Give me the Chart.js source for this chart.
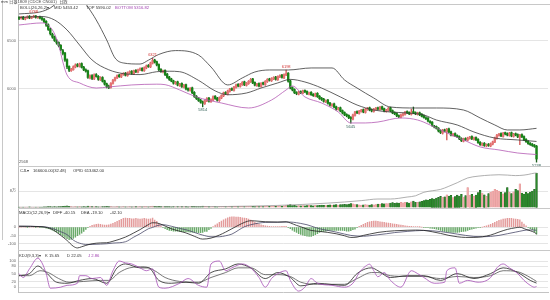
<!DOCTYPE html>
<html><head><meta charset="utf-8">
<script src="https://cdn.jsdelivr.net/npm/chart.js@4.4.1/dist/chart.umd.min.js"></script>
<style>
html,body{margin:0;padding:0;background:#fff;}
body{width:550px;height:300px;position:relative;overflow:hidden;}
canvas{position:absolute;left:0;}
#edge{position:absolute;left:2px;top:0;width:0;height:240px;border-left:1px solid #c8c8c8;}
</style></head><body>
<div id="edge"></div>
<canvas id="cPrice" width="550" height="170" style="top:0px"></canvas>
<canvas id="cVol" width="550" height="49" style="top:163px"></canvas>
<canvas id="cMacd" width="550" height="49" style="top:205px"></canvas>
<canvas id="cKdj" width="550" height="53" style="top:247px"></canvas>
<script>
// ---------- data (one entry per trading day) ----------
const opens = [
6745,6735,6750,6728,6740,6758,6738,6750,6762,6742,6752,6740,
6728,6705,6670,6625,6570,6545,6500,6485,6455,6400,6375,6305,
6235,6190,6200,6228,6255,6235,6265,6228,6200,6190,6115,6140,
6105,6150,6132,6095,6120,6085,6055,6030,6015,6058,6090,6115,
6145,6125,6150,6165,6140,6168,6185,6158,6195,6175,6198,6215,
6190,6218,6245,6230,6268,6302,6285,6255,6205,6178,6195,6155,
6125,6105,6085,6055,6075,6035,6058,6018,6045,6005,5985,6012,
5965,5925,5905,5885,5868,5845,5875,5905,5868,5885,5925,5905,
5878,5905,5928,5965,5945,5975,6005,5985,6015,6048,6025,6045,
6075,6038,6055,6075,6105,6068,6035,6058,6025,6065,6045,6075,
6105,6085,6105,6125,6095,6125,6145,6115,6145,6165,6085,6015,
5995,5965,5945,5975,5955,5985,5975,5945,5965,5945,5925,5955,
5925,5905,5895,5865,5885,5855,5825,5845,5815,5785,5805,5775,
5755,5735,5725,5705,5685,5725,5765,5745,5765,5785,5755,5785,
5805,5785,5765,5785,5805,5785,5815,5795,5765,5775,5805,5775,
5755,5745,5725,5705,5725,5735,5765,5755,5735,5765,5755,5735,
5752,5738,5722,5700,5698,5662,5655,5612,5610,5592,5568,5540,
5575,5555,5585,5555,5515,5535,5515,5505,5485,5455,5485,5465,
5485,5505,5475,5495,5475,5445,5415,5435,5405,5425,5405,5425,
5445,5485,5515,5535,5505,5545,5535,5515,5545,5505,5535,5525,
5495,5525,5505,5475,5455,5435,5425,5415,5405];
const highs = [
6755,6756,6758,6750,6762,6765,6758,6768,6766,6756,6760,6748,
6735,6712,6680,6632,6582,6552,6515,6492,6462,6412,6382,6315,
6240,6215,6240,6262,6265,6270,6272,6235,6210,6198,6148,6150,
6158,6160,6140,6128,6128,6092,6062,6040,6068,6100,6125,6148,
6152,6160,6170,6172,6178,6190,6192,6198,6202,6208,6220,6222,
6230,6250,6255,6280,6321,6310,6292,6262,6212,6198,6200,6162,
6132,6112,6092,6080,6082,6060,6065,6048,6052,6012,6015,6020,
5972,5932,5912,5892,5875,5888,5910,5912,5898,5928,5932,5912,
5918,5940,5968,5972,5988,6008,6012,6028,6050,6055,6058,6078,
6082,6068,6088,6110,6112,6075,6060,6065,6068,6072,6088,6108,
6112,6118,6128,6132,6138,6148,6152,6158,6198,6172,6092,6022,
6002,5972,5978,5982,5988,5992,5982,5968,5972,5952,5958,5962,
5932,5912,5902,5888,5892,5862,5848,5852,5822,5808,5812,5782,
5762,5742,5732,5712,5738,5768,5772,5778,5788,5792,5798,5808,
5812,5792,5798,5808,5812,5818,5822,5802,5788,5808,5812,5782,
5762,5752,5732,5738,5748,5768,5772,5762,5790,5812,5762,5758,
5760,5745,5730,5712,5702,5672,5660,5622,5615,5598,5575,5580,
5582,5590,5592,5562,5538,5542,5522,5512,5492,5488,5492,5498,
5508,5512,5498,5502,5482,5452,5438,5442,5428,5432,5438,5458,
5498,5528,5538,5542,5548,5552,5542,5548,5552,5538,5542,5532,
5528,5532,5512,5482,5462,5442,5432,5422,5412];
const lows = [
6722,6728,6722,6720,6735,6732,6732,6744,6738,6736,6730,6715,
6690,6652,6610,6562,6528,6495,6466,6438,6398,6355,6288,6212,
6180,6182,6195,6220,6230,6228,6218,6190,6175,6110,6105,6098,
6098,6122,6090,6088,6072,6040,6010,6002,6008,6050,6082,6108,
6120,6118,6142,6135,6132,6160,6152,6150,6170,6168,6190,6185,
6182,6210,6225,6222,6260,6270,6240,6190,6172,6168,6140,6110,
6090,6075,6050,6048,6032,6028,6015,6010,5990,5978,5978,5950,
5912,5890,5870,5852,5814,5838,5868,5862,5860,5878,5892,5872,
5870,5898,5920,5942,5938,5968,5982,5978,6008,6022,6018,6038,
6035,6030,6048,6068,6055,6032,6028,6022,6018,6042,6038,6068,
6082,6078,6098,6092,6088,6118,6112,6108,6138,6070,6000,5980,
5952,5940,5938,5952,5948,5962,5942,5938,5932,5922,5918,5912,
5892,5880,5862,5858,5842,5822,5818,5802,5780,5778,5762,5740,
5722,5710,5690,5645,5678,5718,5742,5738,5758,5752,5748,5778,
5772,5762,5758,5778,5782,5778,5782,5762,5758,5768,5762,5742,
5732,5712,5700,5698,5718,5728,5742,5732,5728,5742,5732,5728,
5722,5708,5695,5680,5658,5640,5610,5595,5582,5552,5535,5530,
5552,5470,5542,5512,5508,5502,5492,5472,5452,5448,5462,5458,
5478,5472,5468,5462,5432,5412,5408,5402,5398,5402,5398,5418,
5440,5478,5508,5502,5498,5522,5512,5508,5502,5498,5512,5492,
5420,5492,5462,5442,5422,5412,5402,5392,5238];
const closes = [
6735,6748,6730,6742,6755,6740,6752,6760,6745,6750,6738,6725,
6700,6665,6620,6575,6540,6505,6480,6450,6410,6370,6300,6230,
6195,6205,6232,6250,6238,6262,6225,6198,6185,6120,6138,6110,
6148,6130,6100,6118,6080,6050,6022,6012,6060,6092,6118,6140,
6128,6152,6160,6142,6170,6182,6160,6190,6178,6200,6212,6192,
6222,6240,6232,6272,6298,6280,6250,6200,6182,6190,6150,6120,
6100,6082,6060,6070,6040,6052,6022,6040,6000,5990,6008,5960,
5922,5900,5880,5862,5850,5880,5900,5872,5890,5920,5900,5882,
5910,5932,5960,5950,5980,6000,5990,6020,6042,6030,6050,6070,
6042,6060,6080,6100,6062,6040,6052,6030,6060,6050,6080,6100,
6090,6110,6120,6100,6130,6140,6120,6150,6160,6080,6010,5990,
5960,5950,5970,5960,5980,5970,5950,5960,5940,5930,5950,5920,
5900,5890,5870,5880,5850,5830,5840,5810,5790,5800,5770,5750,
5730,5720,5700,5690,5730,5760,5750,5770,5780,5760,5790,5800,
5780,5770,5790,5800,5790,5810,5790,5770,5780,5800,5770,5750,
5740,5720,5710,5730,5740,5760,5750,5740,5760,5750,5740,5750,
5730,5715,5702,5690,5665,5650,5618,5604,5590,5562,5545,5572,
5560,5580,5550,5520,5530,5510,5500,5480,5460,5480,5470,5490,
5500,5480,5490,5470,5440,5420,5430,5410,5420,5410,5430,5450,
5490,5520,5530,5510,5540,5530,5520,5540,5510,5530,5520,5500,
5520,5500,5470,5450,5430,5420,5410,5400,5270];
// volume, in 万手
const volumes = [
.3,.2,.3,.2,.3,.4,.3,.2,.3,.3,.2,.3,
.4,.4,.5,.5,.4,.5,.4,.5,.5,.6,.7,.8,
.6,.5,.4,.5,.4,.5,.4,.5,.4,.7,.5,.5,
.4,.5,.4,.4,.5,.5,.6,.5,.5,.4,.4,.5,
.4,.4,.5,.4,.4,.5,.4,.4,.5,.4,.5,.4,
.5,.5,.4,.6,.7,.6,.5,.6,.5,.4,.5,.5,
.5,.4,.5,.4,.5,.4,.5,.4,.5,.4,.4,.6,
.6,.5,.5,.5,.7,.6,.5,.5,.4,.5,.5,.4,
.5,.5,.6,.5,.5,.6,.5,.6,.6,.5,.6,.6,
.5,.6,.6,.7,.6,.5,.6,.5,.6,.5,.6,.7,
.6,.7,.7,.6,.7,.8,.7,.8,1.0,1.2,1.4,1.0,
1.1,.9,1.0,.9,1.0,.9,1.0,1.1,1.0,.9,1.1,1.0,
1.1,1.2,1.1,1.0,1.2,1.3,1.1,1.3,1.4,1.2,1.4,1.5,
1.6,1.4,1.7,2.0,1.8,1.5,1.4,1.3,1.2,1.3,1.4,1.3,
1.2,1.4,1.3,1.5,1.7,1.6,1.9,1.8,2.0,1.9,2.2,2.4,
2.1,2.3,2.2,2.5,2.3,2.6,2.4,2.2,2.8,3.1,2.6,2.5,
2.8,3.0,3.4,3.8,3.6,4.0,4.4,4.1,4.6,4.9,5.4,5.0,
5.2,6.2,5.6,5.9,4.8,5.3,6.0,5.5,6.4,5.1,5.8,9.7,
6.0,6.4,5.6,6.1,7.2,8.3,7.0,6.2,5.4,6.8,7.4,8.0,
8.8,8.3,8.0,7.4,6.6,7.2,9.7,7.4,6.8,7.6,8.8,8.2,
11.5,7.0,6.5,7.4,6.8,7.5,8.0,8.8,16.66];
// open interest, [day index, 万手]
const openInterest = [[0,0.5],[50,1],[100,2],[124,3.9],[148,8],[164,12.4],[172,15.3],[178,15.3],[186,18.8],[190,21],[194,27.3],[198,30],[202,32.4],[206,38],[210,44.3],[215,52.8],[220,56],[226,57.9],[230,58.5],[234,57.9],[238,57],[242,57.9],[244,59],[247,61.3],[248,61.35]];
// BOLL(26,26,2), [day index, price]
const bollUpper = [[0,6782],[10,6802],[15,6844],[19,6907],[24,6960],[30,6940],[33,6854],[37,6719],[42,6511],[46,6323],[50,6271],[58,6260],[62,6300],[67,6360],[75,6400],[86,6354],[92,6229],[100,6042],[107,6115],[113,6177],[120,6198],[129,6198],[140,6219],[150,6219],[156,6094],[162,6010],[170,5906],[178,5812],[190,5802],[200,5802],[213,5781],[221,5698],[228,5625],[234,5573],[240,5573],[248,5590.02]];
const bollMid = [[0,6745],[11,6755],[17,6719],[23,6615],[29,6458],[35,6302],[43,6200],[50,6160],[58,6150],[66,6180],[72,6185],[77,6180],[86,6090],[94,5980],[100,5940],[109,5958],[116,6010],[124,6063],[130,6100],[137,6073],[145,6010],[154,5917],[162,5833],[170,5781],[178,5760],[186,5750],[194,5729],[200,5677],[210,5625],[218,5552],[228,5489],[239,5469],[248,5453.42]];
const bollLower = [[0,6667],[11,6688],[16,6615],[19,6458],[21,6281],[23,6146],[29,6063],[37,6010],[43,6021],[54,6042],[66,6050],[70,6045],[77,5990],[85,5917],[97,5854],[110,5802],[121,5885],[128,5990],[131,6031],[137,5917],[145,5854],[153,5760],[159,5646],[166,5646],[172,5656],[183,5698],[191,5677],[197,5625],[204,5552],[213,5469],[221,5396],[230,5365],[239,5333],[248,5316.82]];
// MACD(12,26,9)
const macdDiff = [[0,5],[11,2],[16,-15],[20,-50],[23,-80],[26,-115],[28,-125],[30,-118],[32,-110],[35,-100],[39,-95],[42,-94],[45,-85],[51,-60],[55,-35],[58,-15],[62,15],[64,26],[66,25],[69,12],[73,-10],[77,-25],[80,-35],[84,-55],[88,-72],[92,-66],[96,-48],[99,-30],[102,-10],[105,10],[108,28],[111,38],[115,35],[118,32],[124,30],[128,32],[130,25],[133,10],[135,2],[138,-12],[140,-20],[144,-26],[148,-32],[152,-40],[156,-52],[159,-62],[162,-60],[165,-50],[168,-42],[172,-32],[176,-26],[180,-22],[186,-19],[190,-18],[194,-20],[198,-28],[202,-38],[206,-50],[210,-58],[214,-62],[218,-62],[222,-58],[226,-48],[230,-30],[234,-14],[238,-4],[240,-1],[243,-14],[245,-22],[247,-32],[248,-40.15]];
const macdDea = [[0,5],[11,3],[16,-8],[20,-28],[23,-45],[26,-78],[28,-92],[30,-100],[32,-104],[35,-104],[39,-102],[42,-100],[45,-96],[51,-88],[55,-60],[58,-40],[62,-10],[64,-2],[66,8],[69,14],[73,5],[77,-8],[80,-16],[84,-32],[88,-48],[92,-58],[96,-58],[99,-52],[102,-42],[105,-20],[108,2],[111,14],[115,24],[118,28],[124,29],[128,30],[130,30],[133,26],[135,22],[138,14],[140,6],[144,-10],[148,-20],[152,-30],[156,-42],[159,-50],[162,-54],[165,-55],[168,-52],[172,-46],[176,-40],[180,-33],[186,-26],[190,-22],[194,-20],[198,-22],[202,-27],[206,-34],[210,-42],[214,-50],[218,-56],[222,-58],[226,-56],[230,-50],[234,-40],[238,-30],[240,-25],[243,-18],[245,-17],[247,-18],[248,-19.10]];
const macdHist = [
0,0,1,0,-1,0,1,0,-1,0,
-1,-2,-4,-6,-9,-13,-18,-24,-30,-38,
-46,-54,-62,-70,-76,-74,-68,-60,-52,-44,
-36,-26,-14,-4,4,10,14,16,18,16,
14,12,12,14,18,22,28,34,40,46,
52,54,53,52,50,50,52,50,48,50,
52,50,48,50,54,42,34,20,8,-4,
-10,-16,-20,-22,-24,-24,-25,-26,-27,-28,
-28,-29,-30,-31,-32,-32,-33,-33,-32,-26,
-26,-16,-8,2,12,20,28,36,44,50,
56,60,62,62,60,60,58,56,54,52,
48,42,36,30,24,18,14,10,8,6,
4,2,2,2,2,3,4,4,4,-2,
-10,-18,-26,-32,-40,-44,-48,-52,-54,-56,
-56,-52,-46,-40,-32,-28,-26,-24,-22,-20,
-20,-20,-20,-20,-20,-20,-22,-24,-24,-22,
-16,-12,-4,4,10,16,22,28,32,34,
36,36,34,32,30,28,26,24,22,20,
18,16,14,12,10,8,6,5,4,3,
2,2,1,0,-1,-2,-4,-6,-8,-10,
-12,-16,-20,-24,-26,-28,-30,-32,-32,-32,
-32,-30,-28,-26,-24,-20,-16,-12,-10,-6,
-4,-2,0,4,8,12,16,22,28,34,
40,44,48,50,52,52,52,50,48,46,
44,30,18,8,-2,-10,-16,-28,-42.1];
// KDJ(9,3,3)
const kdjK = [[0,44],[5,52],[9,81],[13,56],[18,19],[23,15],[29,26],[35,33],[42,15],[47,74],[51,89],[58,74],[62,74],[67,26],[73,15],[80,19],[86,15],[92,56],[99,70],[105,89],[111,74],[118,33],[124,56],[130,37],[135,5],[143,15],[150,10],[156,7],[162,52],[166,70],[169,74],[172,63],[178,37],[186,44],[194,44],[202,26],[210,52],[218,33],[226,52],[232,74],[239,56],[245,26],[248,15.65]];
const kdjD = [[0,44],[5,44],[10,63],[14,56],[19,33],[24,19],[31,22],[39,26],[43,26],[48,56],[53,74],[60,78],[65,63],[70,37],[77,22],[86,19],[92,37],[99,56],[105,74],[111,74],[118,48],[124,48],[130,41],[135,19],[143,11],[150,11],[156,11],[162,33],[169,56],[172,56],[178,44],[186,41],[194,41],[202,33],[210,41],[218,37],[226,44],[232,63],[239,59],[245,37],[248,22.05]];
const kdjJ = [[0,52],[2,37],[5,70],[9,111],[11,93],[13,52],[15,-4],[20,0],[23,7],[28,15],[29,44],[32,44],[35,33],[39,37],[42,7],[45,63],[48,100],[51,93],[54,89],[58,74],[61,63],[64,70],[67,0],[70,-4],[77,15],[81,33],[86,7],[90,0],[92,89],[96,100],[99,63],[102,74],[107,89],[111,74],[115,37],[118,0],[121,33],[124,52],[128,63],[130,26],[134,-15],[137,0],[140,33],[143,15],[150,7],[156,0],[160,15],[163,55],[166,80],[168,88],[170,63],[172,40],[175,56],[178,26],[183,0],[188,63],[191,52],[194,37],[199,15],[204,19],[205,63],[209,74],[211,15],[215,26],[220,19],[226,37],[229,74],[232,89],[235,74],[239,52],[242,26],[245,7],[247,0],[248,2.86]];
// axes
const xTickIndex = [24, 66, 126, 167, 205, 248];
const xTickText = ['2017/07', '2017/09', '2017/12', '2018/02', '2018/04', '2018/06'];
const priceTicks = [6000, 6500];
const volTicks = [8];
const macdTicks = [0, -50, -100];
const kdjTicks = [0, 20, 50, 80, 100];
// marked extremes
const peakIdx = [7, 64, 88, 128, 159, 248];
const peakKind = ['H', 'H', 'L', 'H', 'L', 'L'];

[opens, highs, lows, volumes, macdHist].forEach(a => { if (a.length !== closes.length) throw new Error('length ' + a.length + ' vs ' + closes.length); });

// ---------- helpers ----------
const FAM = '"Liberation Sans", "Noto Sans CJK SC", sans-serif';
const N = closes.length;
const labels = Array.from({length: N + 5}, (_, i) => String(i));
const series = pairs => { const a = new Array(labels.length).fill(null); pairs.forEach(([i, v]) => { a[i] = v; }); return a; };
const isUp = closes.map((c, i) => c >= opens[i]);

function xAxis(show) {
  const ax = { type: 'category', offset: true, display: show, grid: { display: false } };
  if (show) {
    ax.border = { display: true, color: '#c4c4c4' };
    ax.ticks = { autoSkip: false, maxRotation: 0, minRotation: 0, padding: 1, color: '#555',
      font: { size: 4, family: FAM },
      callback: (v, i) => { const k = xTickIndex.indexOf(i); return k >= 0 ? xTickText[k] : null; } };
    ax.afterFit = s => { s.height = 8; };
  }
  return ax;
}
function yAxis(min, max, tickVals, fmt) {
  return { position: 'left', min, max,
    afterFit: s => { s.width = 18; },
    afterBuildTicks: s => { s.ticks = tickVals.map(v => ({ value: v })); },
    ticks: { font: { size: 4, family: FAM }, color: '#666', padding: 2, callback: fmt || (v => String(v)) },
    grid: { color: '#dedede', lineWidth: 0.8, drawTicks: false },
    border: { display: true, color: '#bdbdbd' } };
}
function lineDs(pairs, color, axis) {
  return { type: 'line', data: series(pairs), borderColor: color, borderWidth: 0.8, pointRadius: 0,
    spanGaps: true, cubicInterpolationMode: 'monotone', yAxisID: axis || 'y' };
}
function textPlugin(items, extra) {
  return { id: 'txt', afterDraw(chart) {
    const ctx = chart.ctx; ctx.save();
    const a = chart.chartArea;
    ctx.strokeStyle = '#c8c8c8'; ctx.lineWidth = 1;
    ctx.beginPath(); ctx.moveTo(a.left, Math.round(a.top) - 0.5); ctx.lineTo(chart.width, Math.round(a.top) - 0.5); ctx.stroke();
    ctx.textBaseline = 'middle'; ctx.textAlign = 'left';
    for (const t of items) { ctx.font = (t.f || 4.2) + 'px ' + FAM; ctx.fillStyle = t.c || '#333'; ctx.fillText(t.s, t.x, t.y); }
    if (extra) extra(chart, ctx);
    ctx.restore();
  } };
}
const baseOpts = { responsive: false, animation: false, events: [],
  plugins: { legend: { display: false }, tooltip: { enabled: false } } };

// ---------- price panel ----------
new Chart(document.getElementById('cPrice'), {
  type: 'bar',
  data: { labels, datasets: [
    lineDs(bollUpper, '#3a3a3a'),
    lineDs(bollMid, '#3a3a3a'),
    lineDs(bollLower, '#b45ab4'),
    { data: opens.map((o, i) => [o, closes[i]]), backgroundColor: isUp.map(u => u ? '#e57373' : '#178417'),
      barThickness: 1.7, grouped: false },
    { data: lows.map((l, i) => [l, highs[i]]), backgroundColor: isUp.map(u => u ? '#d45a5a' : '#1d5e1d'),
      barThickness: 0.7, grouped: false }
  ] },
  options: Object.assign({}, baseOpts, {
    layout: { padding: { left: 0, right: 2, top: 5, bottom: 5 } },
    scales: { x: xAxis(false), y: yAxis(5208, 6875, priceTicks) }
  }),
  plugins: [textPlugin([
    { s: 'mm 白银1809 (CDCE CN001)  日线', x: 1, y: 2.2, c: '#444' },
    { s: 'BOLL(26,26,2)▾', x: 20, y: 7.5 },
    { s: 'MID 5453.42', x: 54, y: 7.5 },
    { s: 'TOP 5590.02', x: 86, y: 7.5 },
    { s: 'BOTTOM 5316.82', x: 115, y: 7.5, c: '#a040b0' },
    { s: '2568', x: 19, y: 161.5, c: '#555', f: 4 }
  ], (chart, ctx) => {
    const xs = chart.scales.x, ys = chart.scales.y;
    ctx.font = '4px ' + FAM; ctx.textAlign = 'center';
    peakIdx.forEach((i, k) => {
      const hi = peakKind[k] === 'H';
      const v = hi ? highs[i] : lows[i];
      ctx.fillStyle = hi ? '#d03030' : '#2f5f55';
      ctx.fillText(String(v), xs.getPixelForValue(i), ys.getPixelForValue(v) + (hi ? -3.5 : 3.5));
    });
  })]
});

// ---------- volume / open interest ----------
new Chart(document.getElementById('cVol'), {
  type: 'bar',
  data: { labels, datasets: [
    lineDs(openInterest, '#9a9a9a', 'y2'),
    { data: volumes, backgroundColor: isUp.map(u => u ? '#f0aaaa' : '#2b8a2b'),
      borderColor: isUp.map(u => u ? '#dd8f8f' : '#1b4f1b'), borderWidth: 0.3, barThickness: 1.7, grouped: false }
  ] },
  options: Object.assign({}, baseOpts, {
    layout: { padding: { left: 0, right: 2, top: 4, bottom: 4 } },
    scales: { x: xAxis(false), y: yAxis(0, 19.4, volTicks, v => v + '万'),
      y2: { display: false, min: 0, max: 71.6 } }
  }),
  plugins: [textPlugin([
    { s: 'CJL▾', x: 20, y: 7.5 },
    { s: '166600.00(32.48)', x: 33, y: 7.5 },
    { s: 'OPID 613462.00', x: 73, y: 7.5 }
  ])]
});

// ---------- MACD ----------
new Chart(document.getElementById('cMacd'), {
  type: 'bar',
  data: { labels, datasets: [
    lineDs(macdDiff, '#202020'),
    lineDs(macdDea, '#4a4a6a'),
    { data: macdHist, backgroundColor: macdHist.map(v => v >= 0 ? '#e39b9b' : '#6aaa6a'), barThickness: 0.8, grouped: false }
  ] },
  options: Object.assign({}, baseOpts, {
    layout: { padding: { left: 0, right: 2, top: 4, bottom: 4 } },
    scales: { x: xAxis(false), y: yAxis(-135, 106, macdTicks) }
  }),
  plugins: [textPlugin([
    { s: 'MACD(12,26,9)▾', x: 19, y: 7.5 },
    { s: 'DIFF -40.15', x: 53, y: 7.5 },
    { s: 'DEA -19.10', x: 81, y: 7.5 },
    { s: '-42.10', x: 110, y: 7.5 }
  ])]
});

// ---------- KDJ ----------
new Chart(document.getElementById('cKdj'), {
  type: 'line',
  data: { labels, datasets: [
    lineDs(kdjJ, '#a64fb6'),
    lineDs(kdjK, '#222222'),
    lineDs(kdjD, '#555555')
  ] },
  options: Object.assign({}, baseOpts, {
    layout: { padding: { left: 0, right: 2, top: 4, bottom: 0 } },
    scales: { x: xAxis(true), y: yAxis(-18.5, 137, kdjTicks) }
  }),
  plugins: [textPlugin([
    { s: 'KDJ(9,3,3)▾', x: 19, y: 8.5 },
    { s: 'K 15.65', x: 45, y: 8.5 },
    { s: 'D 22.05', x: 67, y: 8.5 },
    { s: 'J 2.86', x: 88, y: 8.5, c: '#a040b0' }
  ])]
});
</script>
</body></html>
